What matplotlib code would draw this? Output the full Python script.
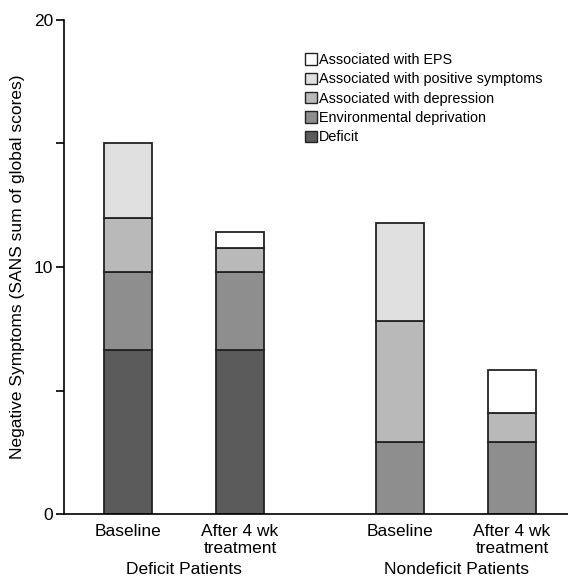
import matplotlib
matplotlib.use("Agg")
import matplotlib.pyplot as plt
import numpy as np
from matplotlib.patches import Patch

plt.rcParams['font.family'] = ['Liberation Sans', 'DejaVu Sans']

bar_labels = ["Baseline", "After 4 wk\ntreatment", "Baseline", "After 4 wk\ntreatment"]
group_labels = ["Deficit Patients", "Nondeficit Patients"]
components = ["Deficit", "Environmental deprivation", "Associated with depression",
              "Associated with positive symptoms", "Associated with EPS"]
deficit = [6.65, 6.65, 0.0, 0.0]
environmental = [3.15, 3.15, 2.9, 2.9]
depression = [2.2, 0.95, 4.9, 1.2]
positive = [3.0, 0.0, 4.0, 0.0]
eps = [0.0, 0.65, 0.0, 1.75]
colors = ["#5b5b5b", "#8e8e8e", "#b9b9b9", "#e0e0e0", "#ffffff"]

fig = plt.figure(figsize=(5.68, 5.82), dpi=100)
ax = fig.add_axes([64/568, 68/582, 504/568, 494/582])

x = np.array([0, 1, 2.43, 3.43])
width = 0.43
bottom = np.zeros(4)
series = [deficit, environmental, depression, positive, eps]
for vals, c, name in zip(series, colors, components):
    vals = np.array(vals)
    mask = vals > 0
    ax.bar(x[mask], vals[mask], width, bottom=bottom[mask], color=c,
           edgecolor="#222222", linewidth=1.3, label=name)
    bottom += vals

ax.set_xlim(-0.571, 3.93)
ax.set_ylim(0, 20)
ax.set_yticks([0, 10, 20])
ax.set_yticks([5, 15], minor=True)
ax.tick_params(axis='y', which='both', direction='out', length=6, width=1.2, labelsize=12.5, pad=2)
ax.set_xticks(x)
ax.set_xticklabels(bar_labels, fontsize=12.5, linespacing=1.15)
ax.tick_params(axis='x', length=0, pad=7)
for s in ["top", "right"]:
    ax.spines[s].set_visible(False)
ax.spines["left"].set_linewidth(1.2)
ax.spines["bottom"].set_linewidth(1.2)
ax.set_ylabel("Negative Symptoms (SANS sum of global scores)", fontsize=12.5, labelpad=6)

for gx, gl in zip([(x[0]+x[1])/2, (x[2]+x[3])/2], group_labels):
    ax.text(gx, -0.098, gl, transform=ax.get_xaxis_transform(), ha="center", va="top", fontsize=12.5)

handles = [Patch(facecolor=c, edgecolor="#222222", linewidth=1.0, label=n)
           for c, n in zip(colors, components)][::-1]
ax.legend(handles=handles, loc="upper left", bbox_to_anchor=(0.466, 0.945),
          frameon=False, fontsize=10.4, handlelength=0.85, handleheight=0.85,
          handletextpad=0.15, labelspacing=0.37, borderaxespad=0)

fig.savefig("out.png", dpi=100)
